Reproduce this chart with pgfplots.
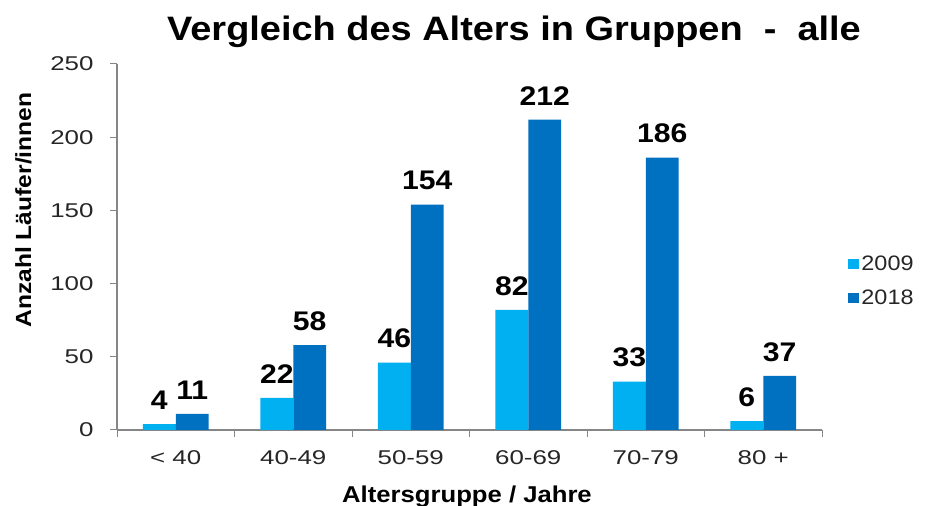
\documentclass[border=0pt]{standalone}
\usepackage{fontspec}
\setmainfont{Liberation Sans}[FakeStretch=1.12]
\newfontfamily\tickfont{Liberation Sans}[FakeStretch=1.3]
\usepackage{pgfplots}
\pgfplotsset{compat=1.18}
\definecolor{c09}{HTML}{00B0F0}
\definecolor{c18}{HTML}{0070C0}
\definecolor{axgray}{HTML}{868686}
\begin{document}
\begin{tikzpicture}[x=1bp,y=1bp]
\useasboundingbox (0,0) rectangle (927,506);
\node[font=\bfseries\fontsize{34}{34}\selectfont] at (514,474) {Vergleich des Alters in Gruppen\ \ -\ \ alle};
\node[font=\bfseries\fontsize{22}{22}\selectfont, rotate=90, anchor=base] at (31,296) {Anzahl Läufer/innen};
\node[font=\bfseries\fontsize{23}{23}\selectfont, anchor=base] at (467,3) {Altersgruppe / Jahre};
\begin{axis}[
  at={(117bp,76bp)}, anchor=south west,
  scale only axis, width=705bp, height=366bp,
  ymin=0, ymax=250, ytick={0,50,...,250},
  xmin=-0.5, xmax=5.5,
  xtick={0,...,5},
  xticklabels={< 40,40-49,50-59,60-69,70-79,80 +},
  major x tick style={draw=none},
  minor xtick={-0.5,0.5,...,5.5},
  minor x tick style={axgray, line width=1bp},
  major y tick style={axgray, line width=1bp},
  tick align=outside,
  major tick length=7bp, minor tick length=7bp,
  axis x line*=bottom, axis y line*=left,
  axis line style={axgray, line width=1.2bp, -},
  ticklabel style={font=\tickfont\fontsize{20}{20}\selectfont, text=black!85},
  /pgf/number format/assume math mode=true,
  yticklabel style={xshift=-13bp},
  xticklabel style={yshift=-10bp},
  ybar=0pt, bar width=0.28,
  nodes near coords,
  every node near coord/.append style={font=\bfseries\fontsize{27}{27}\selectfont, text=black, yshift=11bp},
  legend style={at={(rel axis cs:1.033,0.407)}, anchor=west, draw=none, fill=none,
    font=\fontsize{21}{21}\selectfont, row sep=14bp, text=black!85},
  legend cell align=left,
  legend image code/.code={\fill[#1] (0bp,-5bp) rectangle (11bp,5bp);},
  clip=false,
]
\addplot[fill=c09, draw=none] coordinates {(0,4) (1,22) (2,46) (3,82) (4,33) (5,6)};
\addplot[fill=c18, draw=none] coordinates {(0,11) (1,58) (2,154) (3,212) (4,186) (5,37)};
\legend{2009,2018}
\end{axis}
\end{tikzpicture}
\end{document}
